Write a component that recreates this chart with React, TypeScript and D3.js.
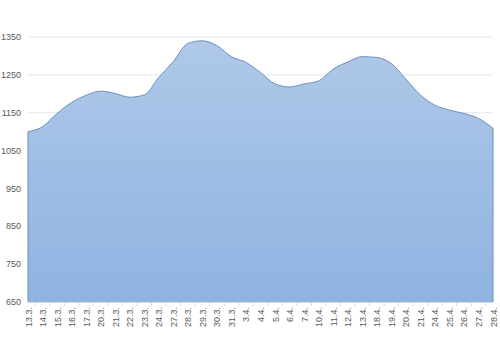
import React from "react";
import * as d3 from "d3";

const categories = ["13.3.","14.3.","15.3.","16.3.","17.3.","20.3.","21.3.","22.3.","23.3.","24.3.","27.3.","28.3.","29.3.","30.3.","31.3.","3.4.","4.4.","5.4.","6.4.","7.4.","10.4.","11.4.","12.4.","13.4.","18.4.","19.4.","20.4.","21.4.","24.4.","25.4.","26.4.","27.4.","28.4."];
const values = [1100,1113,1148,1177,1196,1207,1201,1191,1197,1243,1285,1333,1340,1327,1298,1283,1256,1226,1218,1226,1234,1265,1284,1298,1296,1280,1239,1197,1170,1157,1148,1135,1109];
const yTicks = [650,750,850,950,1050,1150,1250,1350];

export default function App() {
  const W = 500, H = 350;
  const left = 28, right = 493, top = 37, bottom = 302;
  const x = d3.scalePoint<string>().domain(categories).range([left, right]);
  const y = d3.scaleLinear().domain([650, 1350]).range([bottom, top]);
  const data = categories.map((c, i) => ({ c, v: values[i] }));
  const area = d3.area<{ c: string; v: number }>()
    .x(d => x(d.c)!)
    .y0(y(650))
    .y1(d => y(d.v))
    .curve(d3.curveMonotoneX);
  const line = d3.line<{ c: string; v: number }>()
    .x(d => x(d.c)!)
    .y(d => y(d.v))
    .curve(d3.curveMonotoneX);
  const step = x.step();
  return (
    <svg width={W} height={H} style={{ position: "absolute", left: 0, top: 0, background: "#fff" }}
      fontFamily="'Liberation Sans', Arial, sans-serif">
      <defs>
        <linearGradient id="g" x1="0" y1="0" x2="0" y2="1">
          <stop offset="0" stopColor="#afc8e8" />
          <stop offset="1" stopColor="#8fb3e1" />
        </linearGradient>
      </defs>
      {yTicks.map(t => (
        <g key={t}>
          <line x1={left} x2={right} y1={y(t)} y2={y(t)} stroke="#e6e6e6" strokeWidth={1} />
          <text x={21} y={y(t) + 3.2} textAnchor="end" fontSize={9} fill="#595959">{t}</text>
        </g>
      ))}
      <path d={area(data)!} fill="url(#g)" />
      <path d={line(data)!} fill="none" stroke="#6a8fbf" strokeWidth={1} />
      <line x1={left} x2={left} y1={y(values[0])} y2={bottom} stroke="#6a8fbf" strokeWidth={1} />
      <line x1={right} x2={right} y1={y(values[values.length - 1])} y2={bottom} stroke="#6a8fbf" strokeWidth={1} />
      <line x1={left} x2={right} y1={bottom + 0.5} y2={bottom + 0.5} stroke="#d9d9d9" />
      {categories.map((c, i) => (
        <g key={c + i}>
          <line x1={x(c)! + step / 2} x2={x(c)! + step / 2} y1={bottom} y2={bottom + 4} stroke="#d9d9d9" />
          <text transform={`translate(${x(c)! + 3.5},${bottom + 5}) rotate(-90)`} textAnchor="end" fontSize={9} fill="#595959">{c}</text>
        </g>
      ))}
    </svg>
  );
}
